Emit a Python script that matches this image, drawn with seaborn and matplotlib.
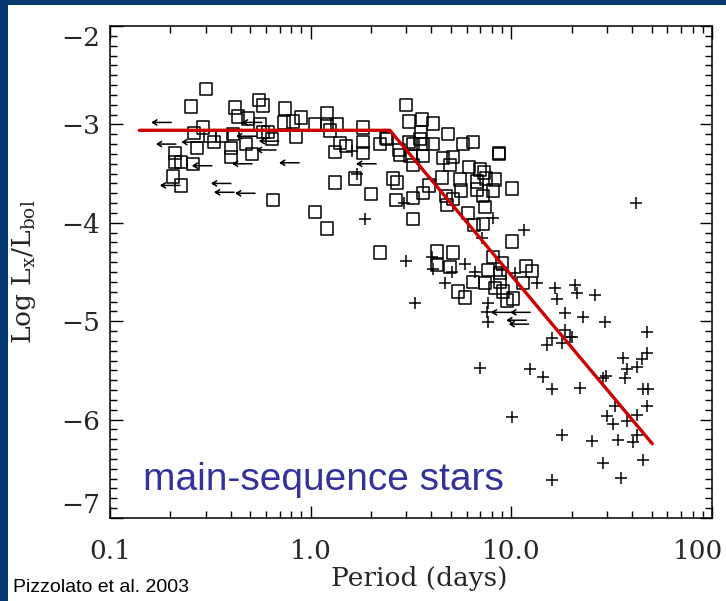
import numpy as np
import matplotlib
matplotlib.use("Agg")
import matplotlib.pyplot as plt
import seaborn as sns
from matplotlib.patches import Rectangle
from matplotlib.path import Path
from matplotlib.ticker import LogLocator, MultipleLocator
from matplotlib.transforms import ScaledTranslation

# X-ray activity vs rotation period (Pizzolato et al. 2003)
square_period = [
    0.301, 0.254, 0.552, 0.578, 0.745, 0.420, 0.435, 0.488, 0.558, 0.736,
    0.817, 0.896, 1.05, 1.21, 1.21, 1.35, 1.25, 1.82, 2.98, 3.09,
    0.290, 0.262, 0.271, 0.315, 0.330, 0.361, 0.401, 0.401, 0.410, 0.476,
    0.511, 0.578, 0.612, 0.641, 0.845, 0.211, 0.211, 0.226, 0.259, 0.206,
    0.226, 0.649, 1.05, 1.21, 1.32, 1.66, 2.00, 2.21, 1.32, 1.40,
    1.50, 1.82, 1.82, 2.21, 2.40, 2.57, 2.69, 2.66, 3.24, 2.79,
    3.24, 3.59, 4.07, 3.55, 4.83, 2.37, 3.24, 3.63, 4.07, 5.74,
    6.44, 8.67, 8.67, 3.63, 4.56, 5.12, 4.94, 6.15, 6.98, 7.30,
    4.51, 5.55, 6.74, 7.47, 8.28, 10.1, 3.88, 5.61, 6.74, 7.21,
    8.09, 3.24, 3.63, 4.72, 5.12, 4.78, 7.38, 6.08, 6.51, 7.21,
    10.1, 4.26, 5.12, 4.26, 4.94, 5.42, 5.87, 6.44, 7.38, 7.64,
    8.09, 8.97, 8.28, 9.08, 9.51, 10.2, 8.77, 11.4, 11.8, 12.7,
    8.77, 3.09, 3.51, 2.76, 3.14,
]
square_logl = [
    -2.64, -2.82, -2.75, -2.81, -2.84, -2.83, -2.92, -2.94, -3.00, -2.98,
    -2.97, -2.93, -3.00, -2.89, -3.00, -3.00, -3.06, -3.03, -2.80, -2.97,
    -3.03, -3.09, -3.24, -3.12, -3.18, -3.12, -3.24, -3.33, -3.10, -3.20,
    -3.30, -3.08, -3.08, -3.15, -3.13, -3.29, -3.38, -3.38, -3.40, -3.53,
    -3.62, -3.77, -3.89, -4.06, -3.59, -3.55, -3.71, -4.30, -3.28, -3.19,
    -3.22, -3.18, -3.29, -3.20, -3.15, -3.55, -3.59, -3.77, -3.96, -3.31,
    -3.41, -2.95, -2.99, -3.08, -3.10, -3.14, -3.20, -3.20, -3.20, -3.20,
    -3.18, -3.29, -3.30, -3.32, -3.34, -3.33, -3.41, -3.43, -3.46, -3.49,
    -3.54, -3.56, -3.58, -3.55, -3.56, -3.65, -3.62, -3.67, -3.66, -3.73,
    -3.67, -3.75, -3.70, -3.73, -3.76, -3.82, -3.84, -3.90, -4.02, -4.01,
    -4.19, -4.29, -4.30, -4.43, -4.45, -4.70, -4.76, -4.60, -4.61, -4.48,
    -4.35, -4.41, -4.66, -4.70, -4.79, -4.77, -4.60, -4.61, -4.44, -4.49,
    -4.51, -3.18, -3.15, -3.26, -3.32,
]

plus_period = [
    1.87, 2.98, 1.70, 1.61, 2.92, 41.8, 11.6, 8.09, 7.13, 4.02,
    4.07, 5.06, 5.87, 6.59, 4.67, 3.31, 7.64, 7.55, 7.64, 8.97,
    10.4, 13.4, 16.5, 16.9, 20.7, 21.2, 26.1, 18.5, 22.7, 29.2,
    18.5, 19.6, 15.0, 15.9, 17.9, 20.0, 47.4, 47.4, 44.8, 36.0,
    37.7, 42.3, 36.8, 6.98, 12.4, 14.4, 15.9, 22.0, 29.6, 28.6,
    45.3, 48.0, 47.4, 32.8, 29.9, 32.1, 37.7, 42.3, 10.1, 17.9,
    25.2, 34.0, 40.4, 42.3, 28.6, 45.3, 15.9, 35.2,
]
plus_logl = [
    -3.96, -4.39, -3.50, -3.27, -3.80, -3.80, -4.07, -3.95, -4.15, -4.35,
    -4.47, -4.50, -4.42, -4.50, -4.61, -4.82, -4.82, -4.91, -5.01, -4.48,
    -4.51, -4.61, -4.66, -4.77, -4.63, -4.71, -4.73, -4.92, -4.96, -5.01,
    -5.09, -5.16, -5.24, -5.17, -5.22, -5.16, -5.11, -5.32, -5.38, -5.37,
    -5.49, -5.47, -5.58, -5.48, -5.49, -5.57, -5.69, -5.68, -5.56, -5.58,
    -5.69, -5.69, -5.86, -5.86, -5.96, -6.04, -6.01, -5.95, -5.97, -6.16,
    -6.22, -6.21, -6.23, -6.16, -6.44, -6.41, -6.61, -6.59,
]

# upper limits on the period (left arrows)
limit_period = [
    0.182, 0.192, 0.257, 0.290, 0.460, 0.482, 0.605, 0.789, 0.201, 0.361,
    0.374, 0.476, 1.91, 0.625, 0.515, 11.2, 10.7, 8.97, 11.0,
]
limit_logl = [
    -2.98, -3.20, -3.18, -3.42, -3.40, -3.12, -3.26, -3.39, -3.62, -3.60,
    -3.69, -3.70, -3.40, -3.17, -2.98, -4.91, -4.99, -4.91, -5.03,
]

# broken power-law fit
fit_period = [0.14, 2.48, 50.4]
fit_logl = [-3.06, -3.06, -6.245]

x_ticks = [0.1, 1, 10, 100]
x_ticklabels = ["0.1", "1.0", "10.0", "100"]
y_ticks = [-7, -6, -5, -4, -3, -2]
y_ticklabels = ["\u22127", "\u22126", "\u22125", "\u22124", "\u22123", "\u22122"]

sns.set_style("ticks")
plt.rcParams["font.family"] = ["DejaVu Serif"]
plt.rcParams["mathtext.fontset"] = "dejavuserif"

W, H = 726, 601
fig = plt.figure(figsize=(W / 100, H / 100), dpi=100, facecolor="#063a6e")
fig.add_artist(Rectangle((8 / W, 0), 1, 1 - 5 / H, transform=fig.transFigure,
                         facecolor="white", edgecolor="none", zorder=-1))
ax = fig.add_axes([110 / W, 1 - 518 / H, 602 / W, 492 / H])
ax.set_facecolor("white")

# left-arrow marker centred on the point
arrow = Path([(1, 0), (-1, 0), (-0.5, 0.3), (-1, 0), (-0.5, -0.3)],
             [Path.MOVETO, Path.LINETO, Path.MOVETO, Path.LINETO, Path.LINETO])

sns.scatterplot(x=square_period, y=square_logl, marker="s", s=80,
                facecolors="none", edgecolors="black", linewidth=1.1, ax=ax)
sns.scatterplot(x=plus_period, y=plus_logl, marker="+", s=70,
                color="black", linewidth=1.1, ax=ax)
sns.scatterplot(x=limit_period, y=limit_logl, marker=arrow, s=190,
                facecolors="none", edgecolors="black", linewidth=1.1, ax=ax)
sns.lineplot(x=fit_period, y=fit_logl, color="#cc0000", linewidth=2.4, ax=ax)

ax.set_xscale("log")
ax.set_xlim(0.1, 100)
ax.set_ylim(-7, -2)
ax.set_xticks(x_ticks, x_ticklabels)
ax.set_yticks(y_ticks, y_ticklabels)
ax.xaxis.set_minor_locator(LogLocator(base=10, subs=range(2, 10)))
ax.yaxis.set_minor_locator(MultipleLocator(0.1))
ax.tick_params(which="both", direction="in", top=True, right=True,
               width=1.0, color="black")
ax.tick_params(which="major", length=9, labelsize=19)
ax.tick_params(which="minor", length=5)
ax.tick_params(axis="x", which="major", pad=15)
ax.tick_params(axis="y", which="major", pad=7)
for sp in ax.spines.values():
    sp.set_linewidth(1.1)
    sp.set_color("black")

# keep the end labels inside the frame like the original
ylabels = ax.get_yticklabels()
ylabels[0].set_va("bottom")
ylabels[-1].set_va("top")
xlabels = ax.get_xticklabels()
xlabels[-1].set_transform(xlabels[-1].get_transform()
                          + ScaledTranslation(-0.14, 0, fig.dpi_scale_trans))

ax.set_xlabel("Period (days)", fontsize=19)
ax.xaxis.set_label_coords(0.513, -0.097)
ax.set_ylabel(r"Log L$_{\rm x}$/L$_{\rm bol}$", fontsize=19)
ax.yaxis.set_label_coords(-0.12, 0.5)

ax.text(0.055, 0.057, "main-sequence stars", transform=ax.transAxes,
        fontsize=28, color="#333399", family="Liberation Sans", va="baseline")
fig.text(13 / W, 9 / H, "Pizzolato et al. 2003", fontsize=14,
         family="Liberation Sans", color="black", va="baseline")

fig.savefig("out.png", dpi=100, facecolor=fig.get_facecolor())
